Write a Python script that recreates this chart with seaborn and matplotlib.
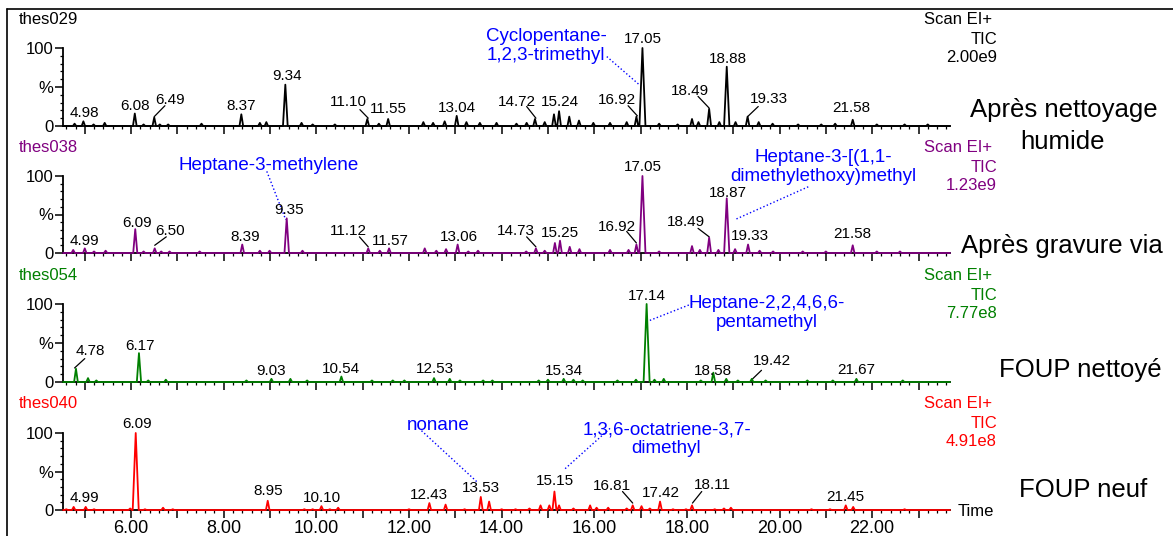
import matplotlib
matplotlib.use('Agg')
import matplotlib.pyplot as plt
import seaborn as sns
import pandas as pd
from matplotlib.lines import Line2D
from matplotlib.ticker import MultipleLocator, FuncFormatter

# ---- data ----
runs = ['thes029', 'thes038', 'thes054', 'thes040']
scan_type = ['Scan EI+', 'TIC']
scales = ['2.00e9', '1.23e9', '7.77e8', '4.91e8']
conditions = [['Après nettoyage', 'humide'], ['Après gravure via'], ['FOUP nettoyé'], ['FOUP neuf']]
colors = ['black', '#800080', '#008000', '#ff0000']

# retention time (min) and relative height (%) of each peak
rt_029 = [4.78, 4.97, 5.19, 5.43, 6.08, 6.27, 6.50, 6.62, 6.80, 7.52, 8.38, 8.78, 8.92,
          9.33, 9.68, 9.92, 10.40, 11.10, 11.35, 11.55, 12.31, 12.52, 12.77, 13.03, 13.24,
          13.53, 13.89, 14.32, 14.54, 14.72, 14.93, 15.13, 15.24, 15.46, 15.67, 15.98,
          16.34, 16.70, 16.91, 17.04, 17.40, 17.80, 18.11, 18.25, 18.48, 18.70, 18.86,
          19.05, 19.31, 19.55, 19.85, 20.40, 20.90, 21.20, 21.58, 22.10, 22.70, 23.20]
h_029 = [3, 6, 2, 4, 16, 2, 11, 2, 2, 3, 15, 4, 5,
         53, 4, 2, 2, 9, 3, 9, 5, 4, 6, 13, 5,
         4, 4, 3, 4, 9, 5, 15, 19, 12, 7, 4,
         4, 5, 12, 100, 3, 2, 9, 5, 22, 5, 76,
         5, 12, 5, 3, 2, 2, 3, 8, 2, 2, 2]

rt_038 = [4.75, 5.00, 5.20, 5.45, 6.09, 6.27, 6.51, 6.65, 6.83, 7.48, 8.40, 8.78, 8.99,
          9.36, 9.70, 11.12, 11.37, 11.57, 12.34, 12.59, 12.80, 13.05, 13.28, 13.49,
          14.53, 14.74, 14.93, 15.15, 15.26, 15.47, 15.68, 16.34, 16.74, 16.91, 17.04,
          17.40, 18.11, 18.28, 18.48, 18.68, 18.86, 19.04, 19.32, 19.57, 19.86, 20.50,
          21.00, 21.58, 22.10, 22.60]
h_038 = [4, 6, 2, 3, 31, 2, 6, 2, 2, 2, 11, 3, 3,
         45, 3, 6, 3, 6, 6, 3, 5, 11, 2, 3,
         2, 6, 3, 13, 16, 8, 5, 4, 4, 11, 100,
         2, 9, 4, 20, 4, 71, 5, 11, 3, 2, 2,
         2, 10, 2, 2]

rt_054 = [4.81, 5.07, 5.25, 6.17, 6.37, 6.75, 8.49, 9.03, 9.44, 9.80, 10.54, 11.20,
          11.65, 11.90, 12.54, 12.88, 13.10, 13.60, 13.80, 14.80, 15.00, 15.34, 15.55,
          15.75, 16.50, 16.90, 17.13, 17.30, 17.50, 18.30, 18.57, 18.85, 19.10, 19.40,
          19.70, 20.60, 21.15, 21.66, 22.66]
h_054 = [17, 5, 2, 37, 2, 3, 2, 4, 4, 2, 7, 2,
         2, 2, 5, 4, 2, 2, 2, 2, 3, 4, 3,
         2, 2, 3, 100, 3, 4, 2, 12, 4, 2, 4,
         2, 2, 2, 4, 2]

rt_040 = [4.60, 4.76, 5.02, 5.20, 5.98, 6.10, 6.30, 6.69, 6.90, 8.95, 9.74, 9.92, 10.11,
          10.29, 10.47, 12.00, 12.44, 12.79, 13.20, 13.55, 13.73, 14.00, 14.30, 14.60,
          14.84, 15.03, 15.14, 15.24, 15.55, 15.91, 16.05, 16.30, 16.70, 16.83, 17.02,
          17.20, 17.42, 17.70, 17.98, 18.11, 18.60, 18.80, 18.95, 20.69, 21.09, 21.43,
          21.59, 22.70]
h_040 = [1, 4, 4, 1, 2, 100, 1, 3, 1, 12, 1, 1, 5,
         1, 3, 1, 9, 7, 1, 17, 11, 1, 1, 2,
         6, 6, 24, 6, 2, 6, 3, 3, 2, 6, 5,
         2, 11, 1, 1, 6, 1, 2, 3, 1, 1, 6,
         4, 1]

peak_rt = [rt_029, rt_038, rt_054, rt_040]
peak_h = [h_029, h_038, h_054, h_040]

# ---- annotation layout: (text, x, y, leader line) ----
labels = [
    [('4.98', 5.00, 11, None), ('6.08', 6.08, 20, None),
     ('6.49', 6.84, 28, ((6.50, 12), (6.73, 26))), ('8.37', 8.38, 20, None),
     ('9.34', 9.36, 59, None), ('11.10', 10.69, 26, ((10.94, 21), (11.12, 10))),
     ('11.55', 11.56, 17, None), ('13.04', 13.04, 18, None),
     ('14.72', 14.33, 26, ((14.54, 25), (14.74, 10))), ('15.24', 15.26, 26, None),
     ('16.92', 16.50, 28, ((16.73, 26), (16.93, 13))), ('17.05', 17.06, 106, None),
     ('18.49', 18.06, 40, ((18.24, 38), (18.48, 23))), ('18.88', 18.88, 81, None),
     ('19.33', 19.77, 29, ((19.31, 12), (19.54, 25))), ('21.58', 21.56, 18, None)],
    [('4.99', 5.00, 10, None), ('6.09', 6.12, 34, None),
     ('6.50', 6.84, 23, ((6.51, 10), (6.76, 21))), ('8.39', 8.46, 15, None),
     ('9.35', 9.40, 50, None), ('11.12', 10.69, 23, ((10.93, 21), (11.12, 8))),
     ('11.57', 11.59, 10, None), ('13.06', 13.08, 16, None),
     ('14.73', 14.31, 23, ((14.54, 21), (14.74, 8))), ('15.25', 15.26, 21, None),
     ('16.92', 16.50, 29, ((16.70, 28), (16.91, 13))), ('17.05', 17.06, 106, None),
     ('18.49', 17.98, 35, ((18.24, 32), (18.48, 21))), ('18.87', 18.88, 73, None),
     ('19.33', 19.36, 17, None), ('21.58', 21.58, 19, None)],
    [('4.78', 5.12, 34, ((4.78, 18), (5.00, 30))), ('6.17', 6.19, 41, None),
     ('9.03', 9.03, 9, None), ('10.54', 10.54, 12, None), ('12.53', 12.55, 11, None),
     ('15.34', 15.35, 9, None), ('17.14', 17.13, 105, None), ('18.58', 18.57, 9, None),
     ('19.42', 19.83, 22, ((19.40, 3), (19.61, 15))), ('21.67', 21.65, 10, None)],
    [('4.99', 5.00, 10, None), ('6.09', 6.12, 107, None), ('8.95', 8.96, 19, None),
     ('10.10', 10.12, 11, None), ('12.43', 12.44, 14, None), ('13.53', 13.55, 24, None),
     ('15.15', 15.15, 32, None), ('16.81', 16.38, 26, ((16.61, 24), (16.83, 9))),
     ('17.42', 17.44, 17, None), ('18.11', 18.54, 27, ((18.32, 24), (18.12, 9))),
     ('21.45', 21.43, 12, None)],
]

compounds = [
    [('Cyclopentane-\n1,2,3-trimethyl', 14.96, 85, ((16.27, 89), (16.97, 53)))],
    [('Heptane-3-methylene', 8.96, 108, ((8.93, 106), (9.34, 43))),
     ('Heptane-3-[(1,1-\ndimethylethoxy)methyl', 20.95, 93, ((20.62, 86), (19.06, 44)))],
    [('Heptane-2,2,4,6,6-\npentamethyl', 19.73, 71, ((17.20, 79), (18.14, 101)))],
    [('nonane', 12.63, 104, ((12.27, 103), (13.46, 37))),
     ('1,3,6-octatriene-3,7-\ndimethyl', 17.56, 74, ((16.34, 106), (15.34, 52)))],
]

XMIN, XMAX = 4.53, 23.68
W, H = 1173, 536

sns.set_style('ticks', {'text.color': 'black', 'axes.labelcolor': 'black',
                        'xtick.color': 'black', 'ytick.color': 'black',
                        'axes.edgecolor': 'black'})
plt.rcParams['font.family'] = ['Liberation Sans', 'DejaVu Sans']


def trace(rt, hts):
    xs, ys = [XMIN], [0]
    for t, h in zip(rt, hts):
        w = 0.035 + 0.0003 * h
        xs += [t - w, t, t + w]
        ys += [0, h, 0]
    xs.append(XMAX)
    ys.append(0)
    return pd.DataFrame({'time': xs, 'pct': ys})


fig = plt.figure(figsize=(W / 100, H / 100), dpi=100)

zero_px = [126, 253, 382, 510]
top_px = [48, 176, 304, 433]
head_px = [20, 148, 276, 404]
cond_pos = [[(1064, 110), (1063, 142)], [(1062, 246)], [(1080, 370)], [(1083, 490)]]

for i in range(4):
    ax = fig.add_axes([63 / W, 1 - zero_px[i] / H, 887 / W, (zero_px[i] - top_px[i]) / H])
    df = trace(peak_rt[i], peak_h[i])
    sns.lineplot(data=df, x='time', y='pct', ax=ax, color=colors[i], lw=1.3,
                 sort=False, estimator=None)
    ax.lines[-1].set_clip_on(False)
    ax.lines[-1].set_zorder(3)
    ax.set_xlim(XMIN, XMAX)
    ax.set_ylim(0, 100)
    ax.set_xlabel('')
    ax.set_ylabel('')
    sns.despine(ax=ax)
    for s in ['left', 'bottom']:
        ax.spines[s].set_linewidth(1.3)

    ax.set_yticks([0, 50, 100])
    ax.set_yticklabels(['0', '%', '100'])
    ax.yaxis.set_minor_locator(MultipleLocator(10))
    ax.xaxis.set_major_locator(MultipleLocator(1))
    ax.xaxis.set_minor_locator(MultipleLocator(0.2))
    ax.tick_params(which='major', direction='out', length=5.5, width=1.1,
                   labelsize=12, pad=1.5, bottom=True, left=True)
    ax.tick_params(which='minor', direction='out', length=2.5, width=0.9,
                   bottom=True, left=True)
    if i == 3:
        ax.xaxis.set_major_formatter(FuncFormatter(
            lambda v, p: f'{v:.2f}' if round(v) % 2 == 0 else ''))
        ax.tick_params(axis='x', labelsize=13, pad=2)
        ax.text(958 / W, 1 - 512 / H, 'Time', transform=fig.transFigure,
                fontsize=12, ha='left', va='center')
    else:
        ax.tick_params(axis='x', labelbottom=False)

    for txt, x, y, lead in labels[i]:
        ax.text(x, y, txt, ha='center', va='baseline', fontsize=11, clip_on=False)
        if lead:
            ax.plot([lead[0][0], lead[1][0]], [lead[0][1], lead[1][1]],
                    color='black', lw=0.9, clip_on=False)
    for txt, x, y, lead in compounds[i]:
        ax.text(x, y, txt, ha='center', va='baseline', fontsize=13.5, color='#0000ff',
                linespacing=1.15, clip_on=False)
        ax.plot([lead[0][0], lead[1][0]], [lead[0][1], lead[1][1]],
                color='#0000ff', lw=1.0, ls=':', clip_on=False)

    # header of each trace
    hy = head_px[i]
    fig.text(19 / W, 1 - hy / H, runs[i], color=colors[i], fontsize=12,
             ha='left', va='center')
    fig.text(992 / W, 1 - hy / H, scan_type[0], color=colors[i], fontsize=12,
             ha='right', va='center')
    fig.text(997 / W, 1 - (hy + 19) / H, scan_type[1], color=colors[i], fontsize=12,
             ha='right', va='center')
    fig.text(997 / W, 1 - (hy + 38) / H, scales[i], color=colors[i], fontsize=12,
             ha='right', va='center')

    for line, (cx, cy) in zip(conditions[i], cond_pos[i]):
        fig.text(cx / W, 1 - cy / H, line, fontsize=18.5, ha='center', va='center')

# outer frame
fig.add_artist(Line2D([7 / W, 1], [1 - 9 / H, 1 - 9 / H], color='black', lw=1.2,
                      transform=fig.transFigure))
fig.add_artist(Line2D([7 / W, 7 / W], [0, 1 - 9 / H], color='black', lw=1.2,
                      transform=fig.transFigure))

fig.savefig('out.png', dpi=100)
